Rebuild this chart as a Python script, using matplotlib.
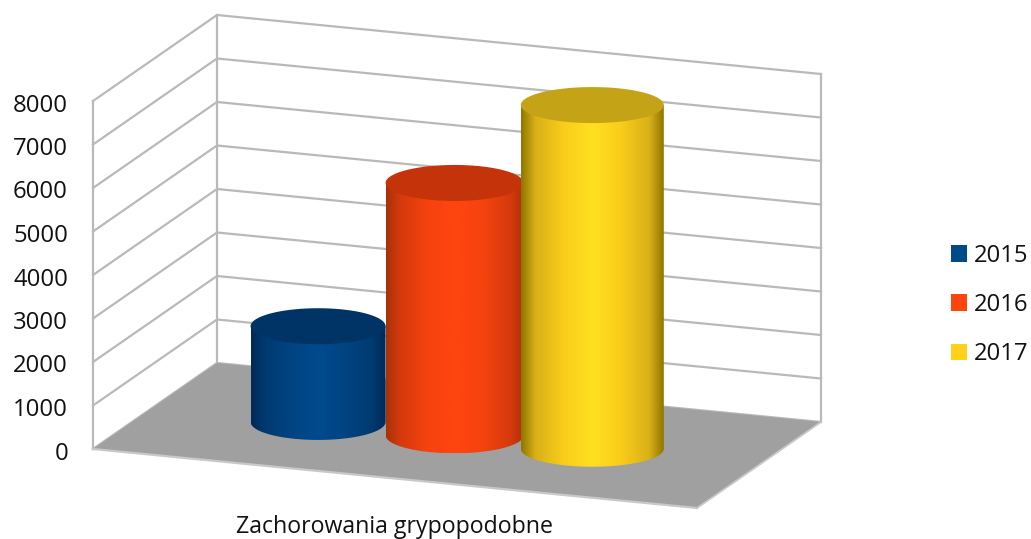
import numpy as np
import matplotlib
matplotlib.use('Agg')
import matplotlib.pyplot as plt
from matplotlib.patches import Patch, Polygon, PathPatch
from matplotlib.path import Path
from matplotlib.colors import LinearSegmentedColormap

# data
years = ['2015', '2016', '2017']
values = [2200, 5800, 7900]
ticks = [0, 1000, 2000, 3000, 4000, 5000, 6000, 7000, 8000]
category = 'Zachorowania grypopodobne'

# colours: body edge, body shoulder, body middle, cap
edge_cols = ['#002a58', '#a83208', '#8f7600']
side_cols = ['#003a70', '#d5390d', '#d9b018']
shade_cols = ['#004482', '#f5430f', '#f9cd1a']
mid_cols = ['#004a8c', '#ff450f', '#ffe020']
cap_cols = ['#003366', '#c5330a', '#c4a316']
legend_cols = ['#004a8c', '#ff450f', '#ffd11a']

GRID = '#b9b9b9'
FLOOR = '#a0a0a0'

plt.rcParams['font.family'] = ['Open Sans', 'DejaVu Sans']
FS = 17.2


def project(u, d, v):
    """chart space (width frac, depth frac, value) to pixels"""
    x = 93 + 604 * u + 124 * d
    y = 449 + 59 * u - 86 * d - v * 0.0435
    return x, y


fig = plt.figure(figsize=(10.31, 5.39), dpi=100)
ax = fig.add_axes([0, 0, 1, 1])
top = ticks[-1]

# floor
ax.add_patch(Polygon([project(0, 0, 0), project(0, 1, 0), project(1, 1, 0), project(1, 0, 0)],
                     closed=True, fc=FLOOR, ec='none', zorder=1))

# walls and gridlines
for t in ticks:
    pts = [project(0, 0, t), project(0, 1, t), project(1, 1, t)]
    ax.plot(*zip(*pts), color=GRID, lw=1.6, zorder=2 if t else 0.5)
for u, d in [(0, 0), (0, 1), (1, 1)]:
    pts = [project(u, d, 0), project(u, d, top)]
    ax.plot(*zip(*pts), color=GRID, lw=1.6, zorder=0.5)
ax.plot(*zip(project(0, 0, 0), project(1, 0, 0)), color='#c8c8c8', lw=1.6, zorder=2)
ax.plot(*zip(project(1, 0, 0), project(1, 1, 0)), color='#c8c8c8', lw=1.3, zorder=2)

# tick labels
for t in ticks:
    x, y = project(0, 0, t)
    ax.text(x - 25, y + 4.5, str(t), ha='right', va='center', fontsize=FS, color='#111111')

# cylinders, drawn left to right so the later ones overlap
pos = [0.270, 0.496, 0.724]
half_w = [67.5, 69, 71.5]
half_h = 18
for i, val in enumerate(values):
    cx, cy0 = project(pos[i], 0.5, 0)
    cx1, cy1 = project(pos[i], 0.5, val)
    rx = half_w[i]
    t = np.linspace(np.pi, 0, 60)
    bottom = np.column_stack([cx + rx * np.cos(t), cy0 + half_h * np.sin(t)])
    body = np.vstack([[cx - rx, cy1], bottom, [cx + rx, cy1]])
    clip = PathPatch(Path(np.vstack([body, body[:1]])), fc='none', ec='none', zorder=3 + i)
    ax.add_patch(clip)
    cmap = LinearSegmentedColormap.from_list(
        'c%d' % i,
        [(0, edge_cols[i]), (0.1, side_cols[i]), (0.3, shade_cols[i]), (0.5, mid_cols[i]),
         (0.7, shade_cols[i]), (0.9, side_cols[i]), (1, edge_cols[i])])
    grad = np.linspace(0, 1, 256)[None, :]
    im = ax.imshow(grad, cmap=cmap, aspect='auto', extent=(cx - rx, cx + rx, cy0 + half_h, cy1),
                   zorder=3 + i, interpolation='bilinear')
    im.set_clip_path(clip)
    t = np.linspace(0, 2 * np.pi, 120)
    ax.fill(cx + rx * np.cos(t), cy1 + half_h * np.sin(t), fc=cap_cols[i], ec='none', zorder=3 + i)

ax.text(394.5, 527, category, ha='center', va='center', fontsize=FS - 0.5, color='#111111')

handles = [Patch(fc=c, ec='none') for c in legend_cols]
ax.set_xlim(0, 1031)
ax.set_ylim(539, 0)
ax.legend(handles, years, loc='center left', bbox_to_anchor=(951, 305), bbox_transform=ax.transData,
          frameon=False, fontsize=FS, handlelength=0.67, handleheight=0.67, handletextpad=0.27,
          labelspacing=1.05, borderpad=0, borderaxespad=0, labelcolor='#111111')
ax.axis('off')

fig.savefig('out.png', dpi=100, facecolor='white')
